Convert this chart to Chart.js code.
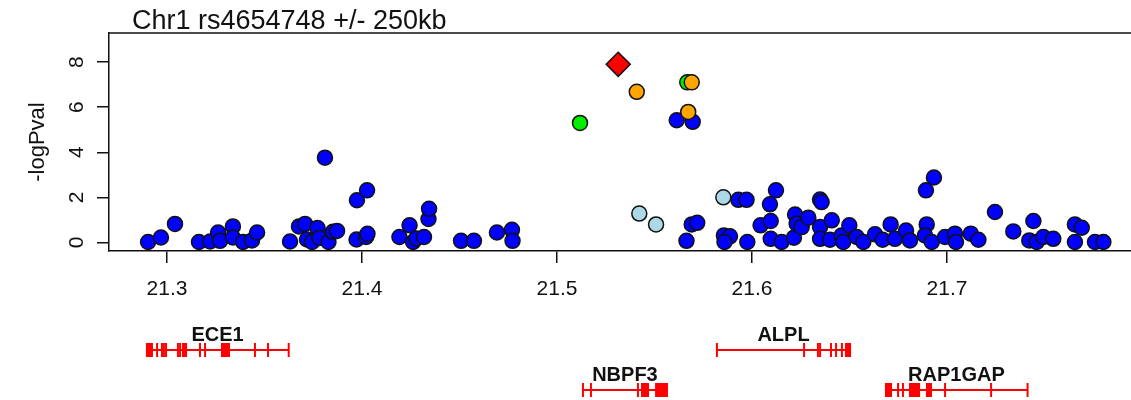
<!DOCTYPE html>
<html>
<head>
<meta charset="utf-8">
<script src="https://cdn.jsdelivr.net/npm/chart.js"></script>
<style>
  html, body { margin: 0; padding: 0; background: #fff; }
  canvas { display: block; }
</style>
</head>
<body>
<canvas id="locus" width="1131" height="400"></canvas>
<script>
const title = 'Chr1 rs4654748 +/- 250kb';
const yLabel = '-logPval';
const xTicks = [21.3, 21.4, 21.5, 21.6, 21.7];
const yTicks = [0, 2, 4, 6, 8];

// SNPs, position in Mb and -log10 p, split by LD colour class
const leadPos = [21.5314];
const leadLogP = [7.90];

const orangePos = [21.5409, 21.5673, 21.5691];
const orangeLogP = [6.68, 5.79, 7.10];

const greenPos = [21.5118, 21.5668];
const greenLogP = [5.30, 7.10];

const lightBluePos = [21.5422, 21.5508, 21.5853];
const lightBlueLogP = [1.28, 0.80, 2.00];

const bluePos = [
  21.2903, 21.2969, 21.3041, 21.3164, 21.3221, 21.3262, 21.3272, 21.3338, 21.3338, 21.3390,
  21.3436, 21.3462, 21.3631, 21.3677, 21.3708, 21.3718, 21.3744, 21.3772, 21.3782, 21.3828,
  21.3851, 21.3872, 21.3810, 21.3974, 21.4026, 21.3972, 21.4021, 21.4028, 21.4192, 21.4244,
  21.4262, 21.4279, 21.4318, 21.4341, 21.4344, 21.4508, 21.4574, 21.4692, 21.4769, 21.4772,
  21.5614, 21.5696, 21.5664, 21.5691, 21.5719, 21.5930, 21.5972, 21.5856, 21.5887, 21.5859,
  21.5976, 21.6044, 21.6092, 21.6123, 21.6096, 21.6096, 21.6152, 21.6215, 21.6221, 21.6229,
  21.6255, 21.6289, 21.6349, 21.6357, 21.6349, 21.6349, 21.6409, 21.6400, 21.6460, 21.6468,
  21.6499, 21.6537, 21.6571, 21.6631, 21.6670, 21.6711, 21.6733, 21.6790, 21.6810, 21.6892,
  21.6933, 21.6896, 21.6887, 21.6922, 21.6990, 21.7041, 21.7046, 21.7122, 21.7161, 21.7246,
  21.7340, 21.7443, 21.7422, 21.7460, 21.7494, 21.7545, 21.7656, 21.7691, 21.7656, 21.7759,
  21.7802
];
const blueLogP = [
  0.02, 0.22, 0.82, 0.02, 0.04, 0.44, 0.07, 0.71, 0.22, 0.02,
  0.09, 0.44, 0.04, 0.71, 0.82, 0.13, 0.02, 0.64, 0.20, 0.02,
  0.47, 0.51, 3.76, 1.87, 2.31, 0.13, 0.24, 0.38, 0.24, 0.76,
  0.02, 0.18, 0.24, 1.04, 1.49, 0.07, 0.07, 0.44, 0.56, 0.07,
  5.42, 5.35, 0.07, 0.80, 0.87, 1.89, 1.89, 0.31, 0.27, 0.02,
  0.02, 0.76, 1.69, 2.31, 0.95, 0.16, 0.02, 0.21, 1.24, 0.83,
  0.68, 1.10, 1.90, 1.79, 0.68, 0.16, 0.98, 0.12, 0.31, 0.02,
  0.76, 0.24, 0.02, 0.36, 0.12, 0.80, 0.16, 0.53, 0.09, 2.31,
  2.88, 0.80, 0.31, 0.02, 0.24, 0.39, 0.02, 0.39, 0.12, 1.35,
  0.49, 0.95, 0.09, 0.02, 0.24, 0.16, 0.80, 0.65, 0.02, 0.02,
  0.02
];

// gene track (Mb)
const geneNames = ['ECE1', 'ALPL', 'NBPF3', 'RAP1GAP'];
const geneStart = [21.2892, 21.5815, 21.5128, 21.6682];
const geneEnd = [21.3626, 21.6508, 21.5569, 21.7415];
const geneRow = [0, 0, 1, 1];
const geneExons = [
  [[21.2892, 21.2928], [21.2944, 21.2951], [21.2969, 21.2976], [21.2979, 21.2986], [21.2990, 21.2997],
   [21.3051, 21.3058], [21.3062, 21.3069], [21.3077, 21.3103], [21.3164, 21.3171], [21.3190, 21.3197],
   [21.3277, 21.3323], [21.3446, 21.3453], [21.3513, 21.3520], [21.3619, 21.3626]],
  [[21.5815, 21.5822], [21.6262, 21.6269], [21.6333, 21.6340], [21.6344, 21.6351], [21.6400, 21.6407],
   [21.6426, 21.6433], [21.6456, 21.6463], [21.6477, 21.6508]],
  [[21.5128, 21.5135], [21.5169, 21.5176], [21.5410, 21.5417], [21.5431, 21.5472], [21.5503, 21.5569]],
  [[21.6682, 21.6718], [21.6744, 21.6751], [21.6769, 21.6776], [21.6805, 21.6862], [21.6892, 21.6923],
   [21.6985, 21.6992], [21.7221, 21.7228], [21.7408, 21.7415]]
];

const FONT = '"Liberation Sans", Arial, Helvetica, sans-serif';
Chart.defaults.font.family = FONT;
Chart.defaults.color = '#111';

const toPoints = (xs, ys) => xs.map((v, i) => ({ x: v, y: ys[i] }));

const snpStyle = (fill) => ({
  backgroundColor: fill,
  borderColor: '#111',
  borderWidth: 1.5,
  pointRadius: 7.5,
  pointHoverRadius: 7.5,
  clip: false
});

const locusDecor = {
  id: 'locusDecor',
  afterDraw(chart) {
    const { ctx, chartArea, scales: { x } } = chart;
    ctx.save();

    // top edge of the plot box
    ctx.strokeStyle = '#111';
    ctx.lineWidth = 1.5;
    ctx.beginPath();
    ctx.moveTo(chartArea.left, chartArea.top);
    ctx.lineTo(chartArea.right, chartArea.top);
    ctx.stroke();

    ctx.fillStyle = '#111';
    ctx.font = '27px ' + FONT;
    ctx.textAlign = 'left';
    ctx.textBaseline = 'alphabetic';
    ctx.fillText(title, 132, 29);

    // genes
    const rowMid = [350, 390];
    const rowLabel = [341, 381];
    geneNames.forEach((name, i) => {
      const y = rowMid[geneRow[i]];
      const x0 = x.getPixelForValue(geneStart[i]);
      const x1 = x.getPixelForValue(geneEnd[i]);
      ctx.strokeStyle = '#f00';
      ctx.fillStyle = '#f00';
      ctx.lineWidth = 2;
      ctx.beginPath();
      ctx.moveTo(x0, y);
      ctx.lineTo(x1, y);
      ctx.stroke();
      geneExons[i].forEach(([s, e]) => {
        const a = x.getPixelForValue(s);
        const b = x.getPixelForValue(e);
        ctx.fillRect(a, y - 7, Math.max(2, b - a), 14);
      });
      ctx.fillStyle = '#111';
      ctx.font = 'bold 20px ' + FONT;
      ctx.textAlign = 'center';
      ctx.fillText(name, (x0 + x1) / 2, rowLabel[geneRow[i]]);
    });
    ctx.restore();
  }
};

new Chart(document.getElementById('locus'), {
  type: 'scatter',
  data: {
    datasets: [
      { data: toPoints(leadPos, leadLogP), ...snpStyle('#ff0000'), pointStyle: 'rectRot', pointRadius: 12, pointHoverRadius: 12 },
      { data: toPoints(orangePos, orangeLogP), ...snpStyle('#ffa500') },
      { data: toPoints(greenPos, greenLogP), ...snpStyle('#00ee00') },
      { data: toPoints(lightBluePos, lightBlueLogP), ...snpStyle('#add8e6') },
      { data: toPoints(bluePos, blueLogP), ...snpStyle('#0000ff') }
    ]
  },
  options: {
    responsive: false,
    animation: false,
    events: [],
    layout: { autoPadding: false, padding: { top: 33, right: 0, left: 0, bottom: 0 } },
    plugins: { legend: { display: false }, tooltip: { enabled: false } },
    scales: {
      x: {
        type: 'linear',
        min: 21.27026,
        max: 21.79436,
        afterBuildTicks: (s) => { s.ticks = xTicks.map(v => ({ value: v })); },
        afterFit: (s) => { s.height = 149; },
        ticks: {
          font: { size: 21 },
          padding: 14,
          callback: (v) => v.toFixed(1)
        },
        grid: { drawOnChartArea: false, color: '#111', lineWidth: 1.5, tickLength: 12 },
        border: { display: true, color: '#111', width: 1.5 }
      },
      y: {
        type: 'linear',
        min: -0.38,
        max: 9.29,
        afterBuildTicks: (s) => { s.ticks = yTicks.map(v => ({ value: v })); },
        afterFit: (s) => { s.width = 109; },
        ticks: {
          font: { size: 21 },
          padding: 14,
          minRotation: 90,
          maxRotation: 90,
          crossAlign: 'center',
          callback: (v) => String(v)
        },
        title: {
          display: true,
          text: yLabel,
          font: { size: 22 },
          color: '#111',
          padding: { top: 25, bottom: 0 }
        },
        grid: { drawOnChartArea: false, color: '#111', lineWidth: 1.5, tickLength: 12 },
        border: { display: true, color: '#111', width: 1.5 }
      }
    }
  },
  plugins: [locusDecor]
});
</script>
</body>
</html>
